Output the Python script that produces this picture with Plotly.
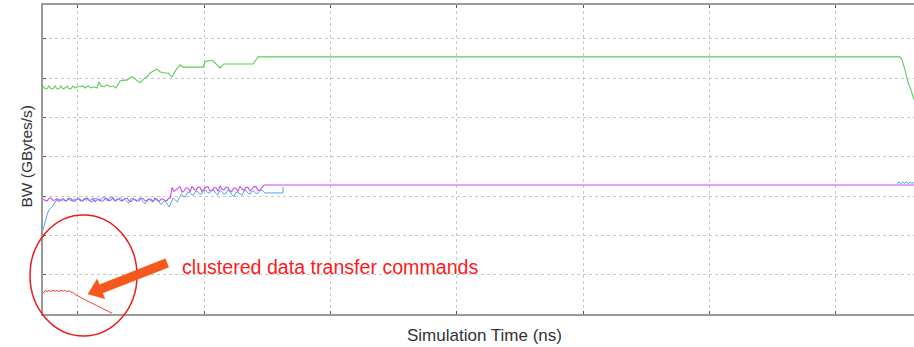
import plotly.graph_objects as go

# ---------------- data (x in ns, y in GB/s) ----------------
green_x = [0, 16, 32, 47, 63, 79, 95, 111, 127, 142, 158, 174, 190, 206, 222, 237, 253, 269,
           293, 317, 332, 356, 380, 404, 427, 443, 459, 483, 507, 530, 554, 578, 594, 610,
           641, 665, 689, 705, 728, 768, 800, 831, 847, 879, 902, 926, 958, 990, 1021, 1053,
           1085, 1108, 1164, 1227, 1267, 1282, 1306, 1346, 1377, 1401, 1433, 1559, 1662,
           1686, 1702, 6784, 6800, 6824, 6847, 6871, 6895]
green_y = [5.80, 5.73, 5.73, 5.80, 5.73, 5.73, 5.80, 5.73, 5.73, 5.80, 5.73, 5.75, 5.80, 5.73,
           5.73, 5.80, 5.75, 5.78, 5.78, 5.80, 5.75, 5.80, 5.75, 5.78, 5.75, 5.90, 5.80, 5.78,
           5.83, 5.78, 5.80, 5.75, 5.83, 5.93, 5.95, 5.95, 6.01, 6.03, 5.98, 5.88, 5.98, 6.06,
           6.13, 6.18, 6.23, 6.16, 6.13, 6.13, 6.03, 6.21, 6.34, 6.28, 6.28, 6.28, 6.28, 6.41,
           6.44, 6.44, 6.34, 6.26, 6.36, 6.36, 6.36, 6.46, 6.54, 6.54, 6.46, 6.21, 5.90, 5.70,
           5.45]

blue_x = [0, 16, 32, 47, 63, 79, 103, 135, 151, 167, 183, 199, 215, 231, 247, 263, 279, 295,
          311, 327, 343, 359, 375, 391, 407, 423, 439, 455, 471, 487, 503, 519, 535, 551, 567,
          583, 599, 615, 631, 647, 663, 679, 695, 711, 727, 743, 759, 775, 791, 807, 823, 839,
          855, 871, 887, 903, 919, 935, 951, 967, 983, 999, 1015, 1031, 1047, 1063, 1079, 1095,
          1111, 1127, 1143, 1159, 1175, 1191, 1207, 1223, 1239, 1255, 1271, 1287, 1303, 1319,
          1335, 1351, 1367, 1383, 1399, 1415, 1431, 1447, 1463, 1479, 1495, 1511, 1527, 1543,
          1559, 1575, 1591, 1607, 1623, 1639, 1655, 1671, 1687, 1703, 1719, 1735, 1757, 1900,
          1901, None,
          6760, 6775, 6790, 6805, 6820, 6835, 6850, 6865, 6880, 6895]
blue_y = [2.14, 2.34, 2.52, 2.65, 2.70, 2.75, 2.88, 2.93, 2.88, 2.92, 2.87, 2.95, 2.89, 2.88,
          2.93, 2.90, 2.96, 2.91, 2.88, 2.94, 2.89, 2.93, 2.86, 2.85, 2.93, 2.95, 2.88, 2.90,
          2.96, 2.98, 2.89, 2.90, 2.97, 2.98, 2.90, 2.88, 2.94, 2.96, 2.89, 2.92, 2.86, 2.82,
          2.93, 2.95, 2.89, 2.88, 2.94, 2.93, 2.86, 2.80, 2.90, 2.92, 2.88, 2.85, 2.94, 2.93,
          2.84, 2.78, 2.86, 2.88, 2.80, 2.72, 2.84, 2.95, 2.90, 2.85, 2.96, 3.05, 3.00, 2.98,
          3.08, 3.10, 3.04, 3.02, 3.12, 3.12, 3.06, 3.05, 3.14, 3.15, 3.09, 3.08, 3.13, 3.16,
          3.07, 3.03, 3.14, 3.12, 3.05, 3.06, 3.15, 3.15, 3.04, 2.98, 3.09, 3.10, 3.06, 3.02,
          3.13, 3.14, 3.07, 3.05, 3.13, 3.12, 3.06, 3.08, 3.14, 3.15, 3.08, 3.08, 3.23, None,
          3.30, 3.36, 3.31, 3.36, 3.32, 3.37, 3.31, 3.36, 3.32, 3.35]

magenta_x = [0, 16, 32, 47, 63, 79, 95, 111, 127, 143, 159, 175, 190, 206, 222, 238, 253, 269,
             285, 301, 317, 333, 348, 364, 380, 396, 412, 428, 443, 459, 475, 491, 507, 523,
             538, 554, 570, 586, 602, 618, 633, 649, 665, 681, 697, 713, 728, 744, 760, 776,
             792, 808, 823, 839, 855, 871, 887, 903, 918, 934, 950, 966, 982, 994, 1005,
             1013, 1021, 1037, 1053, 1069, 1085, 1101, 1116, 1132, 1148, 1164, 1180, 1196, 1211,
             1227, 1243, 1259, 1275, 1291, 1306, 1322, 1338, 1354, 1370, 1386, 1401, 1417,
             1433, 1449, 1465, 1481, 1496, 1512, 1528, 1544, 1560, 1576, 1591, 1607, 1623,
             1639, 1655, 1671, 1686, 1702, 1718, 1734, 1750, 6895]
magenta_y = [2.93, 2.89, 2.88, 2.94, 2.95, 2.89, 2.90, 2.93, 2.86, 2.90, 2.94, 2.88, 2.89,
             2.94, 2.93, 2.87, 2.87, 2.93, 2.92, 2.87, 2.88, 2.93, 2.95, 2.89, 2.90, 2.94,
             2.86, 2.91, 2.93, 2.87, 2.88, 2.93, 2.94, 2.88, 2.90, 2.95, 2.87, 2.92, 2.93,
             2.88, 2.89, 2.94, 2.95, 2.88, 2.86, 2.92, 2.92, 2.87, 2.88, 2.95, 2.94, 2.88,
             2.87, 2.93, 2.92, 2.86, 2.95, 2.89, 2.86, 2.92, 2.93, 2.88, 2.89, 2.94, 2.94,
             3.05, 3.22, 3.12, 3.16, 3.22, 3.24, 3.10, 3.13, 3.21, 3.20, 3.11, 3.25, 3.18,
             3.15, 3.22, 3.22, 3.12, 3.17, 3.23, 3.24, 3.13, 3.14, 3.21, 3.21, 3.12, 3.26,
             3.17, 3.16, 3.23, 3.22, 3.11, 3.13, 3.21, 3.20, 3.12, 3.25, 3.18, 3.15, 3.22,
             3.22, 3.13, 3.18, 3.24, 3.24, 3.14, 3.16, 3.22, 3.28, 3.28]

red_x = [0, 16, 32, 47, 63, 79, 95, 111, 127, 142, 158, 174, 190, 206, 222, 237, 253,
         269, 317, 372, 427, 483, 546]
red_y = [0.52, 0.60, 0.57, 0.60, 0.57, 0.60, 0.58, 0.60, 0.57, 0.60, 0.58, 0.60, 0.57, 0.59,
         0.56, 0.55, 0.50, 0.47, 0.39, 0.30, 0.21, 0.12, 0.02]

x_range = [0, 6895]
y_range = [0, 7.86]
x_grid_start = 277
x_grid_step = 1000
y_grid_step = 1

annotation_text = "clustered data transfer commands"
x_title = "Simulation Time (ns)"
y_title = "BW (GBytes/s)"

# ---------------- layout helpers (pixel -> paper) ----------------
W, H = 914, 347
ML, MR, MT, MB = 43, 0, 5, 33
PW, PH = W - ML - MR, H - MT - MB


def px(xp):
    return (xp - ML) / PW


def py(yp):
    return (H - MB - yp) / PH


fig = go.Figure()
fig.add_trace(go.Scatter(x=green_x, y=green_y, mode="lines",
                         line=dict(color="#5ccb5c", width=1.1), hoverinfo="skip"))
fig.add_trace(go.Scatter(x=magenta_x, y=magenta_y, mode="lines",
                         line=dict(color="#cc4cec", width=1.1), hoverinfo="skip"))
fig.add_trace(go.Scatter(x=blue_x, y=blue_y, mode="lines", connectgaps=False,
                         line=dict(color="#3d9bf5", width=0.9), hoverinfo="skip"))
fig.add_trace(go.Scatter(x=red_x, y=red_y, mode="lines",
                         line=dict(color="#f04040", width=1.0), hoverinfo="skip"))

axis_common = dict(showticklabels=False, showline=True, linecolor="#9a9a9a", linewidth=1.5,
                   ticks="inside", ticklen=3, tickcolor="#555",
                   showgrid=True, gridcolor="#c8c8c8", griddash="dot", gridwidth=1,
                   zeroline=False, fixedrange=True)

fig.update_xaxes(range=x_range, tick0=x_grid_start, dtick=x_grid_step, mirror="ticks",
                 **axis_common)
fig.update_yaxes(range=y_range, tick0=0, dtick=y_grid_step, mirror=False, **axis_common)

# arrow polygon (pixel space)
tip = (88, 294)
tail = (167, 263)
dx, dy = tip[0] - tail[0], tip[1] - tail[1]
ln = (dx * dx + dy * dy) ** 0.5
ux, uy = dx / ln, dy / ln
nx, ny = -uy, ux
hl, hw, bw = 14, 10.5, 4.5
bx, by = tip[0] - ux * hl, tip[1] - uy * hl
pts = [
    (tail[0] + nx * bw, tail[1] + ny * bw),
    (bx + nx * bw, by + ny * bw),
    (bx + nx * hw, by + ny * hw),
    tip,
    (bx - nx * hw, by - ny * hw),
    (bx - nx * bw, by - ny * bw),
    (tail[0] - nx * bw, tail[1] - ny * bw),
]
path = "M " + " L ".join(f"{px(a):.5f},{py(b):.5f}" for a, b in pts) + " Z"

fig.update_layout(
    width=W, height=H,
    margin=dict(l=ML, r=MR, t=MT, b=MB, pad=0),
    paper_bgcolor="white", plot_bgcolor="white",
    showlegend=False,
    font=dict(family="Liberation Sans, Arial, sans-serif", color="#333"),
    shapes=[
        dict(type="circle", xref="paper", yref="paper",
             x0=px(30), x1=px(137), y0=py(336), y1=py(215),
             line=dict(color="#ee1c1c", width=1.5), layer="above"),
        dict(type="path", xref="paper", yref="paper", path=path,
             fillcolor="#f4581c", line=dict(color="#f4581c", width=0.5), layer="above"),
    ],
    annotations=[
        dict(text=annotation_text, xref="paper", yref="paper", x=px(180), y=py(267),
             xanchor="left", yanchor="middle", showarrow=False,
             font=dict(size=19.6, color="#ff1a1a")),
        dict(text=x_title, xref="paper", yref="paper", x=px(484), y=py(335),
             xanchor="center", yanchor="middle", showarrow=False,
             font=dict(size=17, color="#333")),
        dict(text=y_title, xref="paper", yref="paper", x=px(26), y=py(156.5),
             xanchor="center", yanchor="middle", showarrow=False, textangle=-90,
             font=dict(size=15.5, color="#333")),
    ],
)

fig.write_html("out.html", config={"displayModeBar": False})
